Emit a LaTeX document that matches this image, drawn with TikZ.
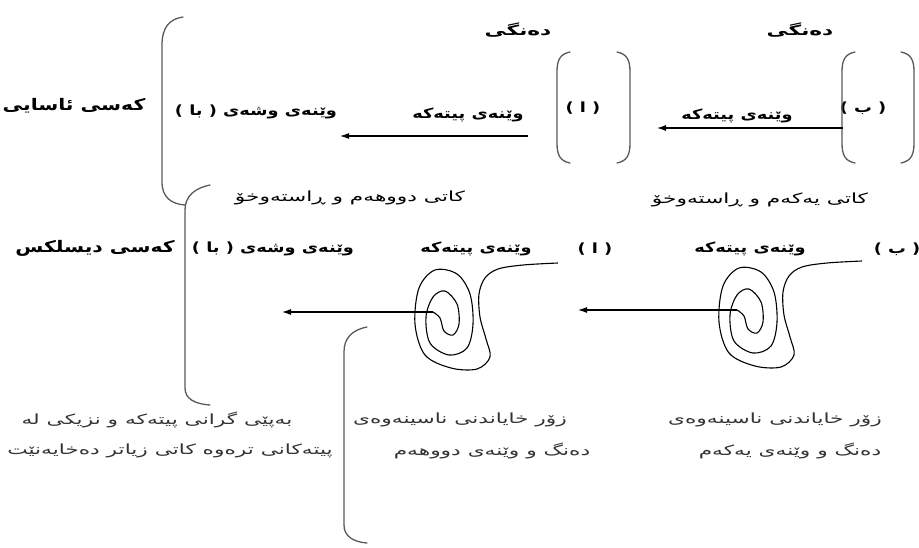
\documentclass[tikz,border=0pt]{standalone}
\usepackage{fontspec}
\usetikzlibrary{arrows.meta}
\newfontfamily\arabicfont[Script=Arabic, FakeStretch=1.27]{DejaVu Sans}
\newfontfamily\arabicwide[Script=Arabic, FakeStretch=1.55]{DejaVu Sans}
\TeXXeTstate=1
\newcommand{\rtl}[1]{\beginR #1\endR}

\tikzset{
  spiral/.pic={
    \draw[coil] plot[smooth, tension=0.55] coordinates {
      (125,-49) (90,-47) (65,-43) (52,-34) (46,-18) (47,5) (53,27) (57,45)
      (44,57) (18,56) (-8,43) (-18,12) (-14,-24) (2,-42) (24,-38) (37,-18)
      (40,12) (34,36) (16,43) (-3,31) (-7,5) (0,-15) (12,-21) (24,-8)
      (26,12) (20,23) (11,19) (7,6) (0,0)};
  }
}

\begin{document}
\begin{tikzpicture}[
    x=1pt, y=-1pt,
    every node/.style={font=\arabicwide\fontsize{14}{16}\selectfont, inner sep=1pt},
    word/.style={font=\arabicfont\bfseries\fontsize{14}{16}\selectfont},
    sound/.style={font=\arabicwide\bfseries\fontsize{14}{16}\selectfont},
    person/.style={font=\arabicfont\bfseries\fontsize{16}{18}\selectfont},
    note/.style={font=\arabicwide\fontsize{14}{16}\selectfont, text=black!80},
    brk/.style={line width=1.3pt, draw=black!65, line cap=round},
    coil/.style={line width=1.1pt, line join=round},
    arr/.style={-{Latex[length=9pt, width=6pt]}, line width=1.1pt}
]
\useasboundingbox (0,0) rectangle (919,547);

% first row: normal reader
\node[person] (normal) at (74,106) {\rtl{کەسی ئاسایی}};
\node[sound] (deng1) at (518,30) {\rtl{دەنگی}};
\node[sound] (deng2) at (800,30) {\rtl{دەنگی}};
\node[word] (alef1) at (583,108) {\rtl{( ا )}};
\node[word] (be1) at (863,108) {\rtl{( ب )}};
\node[word] (pit1) at (737,116) {\rtl{وێنەی پیتەکە}};
\node[word] (pit2) at (468,115) {\rtl{وێنەی پیتەکە}};
\node[word] (wsh1) at (256,112) {\rtl{وێنەی وشەی ( با )}};

% second row: dyslexic reader
\node[person] (dys) at (95,248) {\rtl{کەسی دیسلکس}};
\node (kat2) at (350,198) {\rtl{کاتی دووهەم و ڕاستەوخۆ}};
\node (kat1) at (760,200) {\rtl{کاتی یەکەم و ڕاستەوخۆ}};
\node[word] (alef2) at (595,249) {\rtl{( ا )}};
\node[word] (be2) at (897,249) {\rtl{( ب )}};
\node[word] (pit3) at (750,249) {\rtl{وێنەی پیتەکە}};
\node[word] (pit4) at (476,249) {\rtl{وێنەی پیتەکە}};
\node[word] (wsh2) at (273,249) {\rtl{وێنەی وشەی ( با )}};

% notes under the spirals
\node[note] (note1a) at (775,420) {\rtl{زۆر خایاندنی ناسینەوەی}};
\node[note] (note1b) at (790,451) {\rtl{دەنگ و وێنەی یەکەم}};
\node[note] (note2a) at (460,420) {\rtl{زۆر خایاندنی ناسینەوەی}};
\node[note] (note2b) at (492,451) {\rtl{دەنگ و وێنەی دووهەم}};
\node[note] (note3a) at (157,420) {\rtl{بەپێی گرانی پیتەکە و نزیکی لە}};
\node[note] (note3b) at (170,451) {\rtl{پیتەکانی ترەوە کاتی زیاتر دەخایەنێت}};

% big brackets
\draw[brk] (183,17) .. controls (169,19) and (162,28) .. (162,45) -- (162,182)
  .. controls (162,197) and (171,204) .. (185,205);
\draw[brk] (210,185) .. controls (195,188) and (185,196) .. (185,210) -- (185,388)
  .. controls (185,399) and (195,404) .. (210,405);
\draw[brk] (367,327) .. controls (352,330) and (344,338) .. (344,352) -- (344,525)
  .. controls (344,536) and (353,542) .. (367,543);

% brackets round the letters
\foreach \xl/\xr in {557/630, 842/914} {
  \draw[brk] (\xl+13,52) .. controls (\xl+3,54) and (\xl,60) .. (\xl,72) -- (\xl,143)
    .. controls (\xl,155) and (\xl+3,161) .. (\xl+13,163);
  \draw[brk] (\xr-13,52) .. controls (\xr-3,54) and (\xr,60) .. (\xr,72) -- (\xr,143)
    .. controls (\xr,155) and (\xr-3,161) .. (\xr-13,163);
}

% spirals
\pic at (433,312) {spiral};
\pic at (737,310) {spiral};

% arrows
\coordinate (bB) at (843,128);
\coordinate (tipB) at (657,128);
\coordinate (bA) at (528,136);
\coordinate (tipA) at (340,136);
\coordinate (sp1) at (433,312);
\coordinate (tip1) at (282,312);
\coordinate (sp2) at (737,310);
\coordinate (tip2) at (578,310);
\draw[arr] (bB) -- (tipB);
\draw[arr] (bA) -- (tipA);
\draw[arr] (sp1) -- (tip1);
\draw[arr] (sp2) -- (tip2);

\end{tikzpicture}
\end{document}
